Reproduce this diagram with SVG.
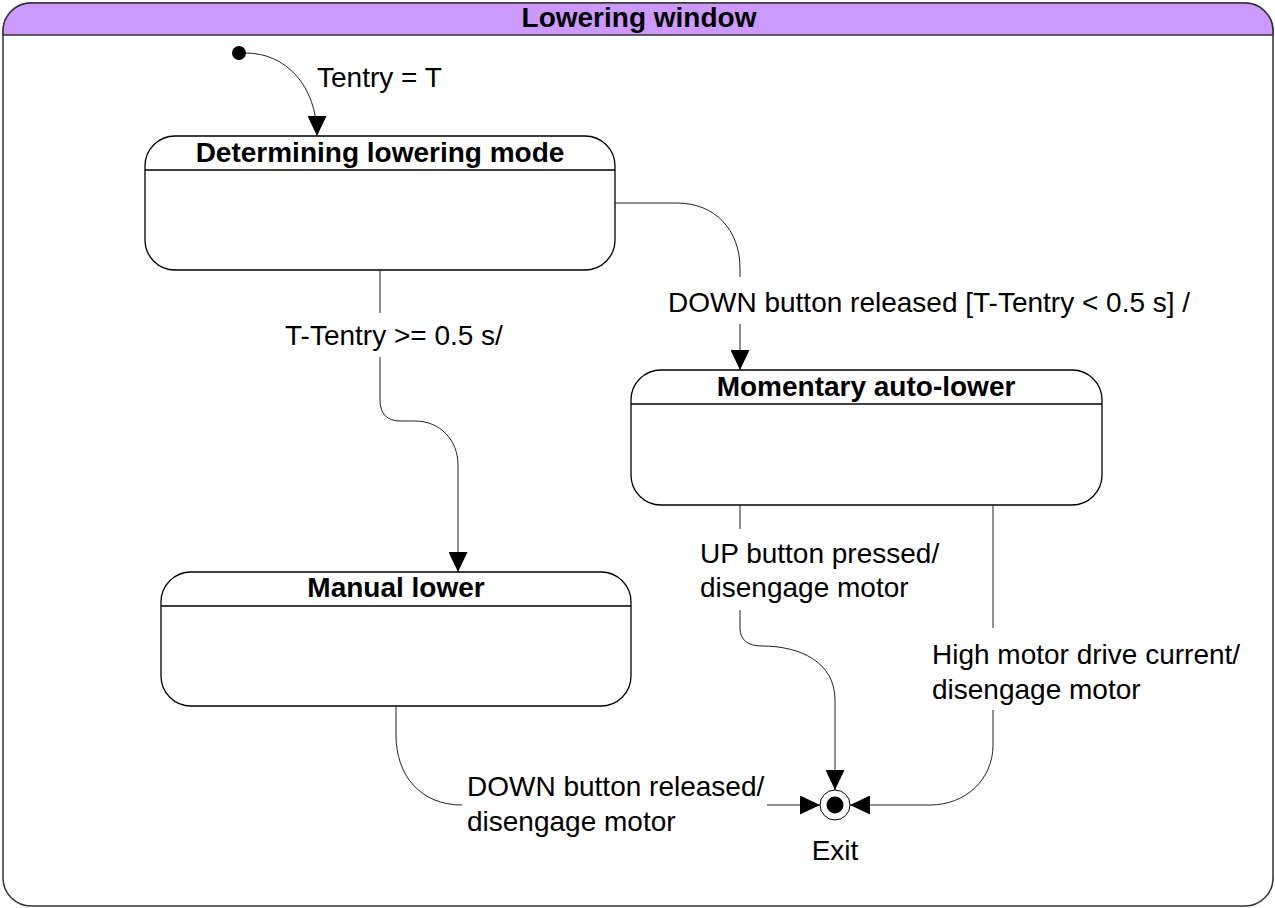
<svg xmlns="http://www.w3.org/2000/svg" width="1275" height="908" viewBox="0 0 1275 908">
  <style>
    .t { font-family: "Liberation Sans", Arial, sans-serif; font-size: 28px; fill: #000; }
    .b { font-weight: bold; text-anchor: middle; }
    .state { fill: #fff; stroke: #000; stroke-width: 1.3; }
    .sep { stroke: #000; stroke-width: 1.3; }
    .conn { fill: none; stroke: #222; stroke-width: 1; marker-end: url(#arrow); }
  </style>
  <defs>
    <marker id="arrow" markerUnits="userSpaceOnUse" markerWidth="20" markerHeight="19" refX="20" refY="9.5" orient="auto">
      <path d="M0,0 L20,9.5 L0,19 Z" fill="#000"/>
    </marker>
  </defs>

  <g id="frame">
    <rect x="3" y="3" width="1270" height="903" rx="28" ry="28" fill="#fff" stroke="#333" stroke-width="1.5"/>
    <path d="M3,35 V31 A28,28 0 0 1 31,3 H1245 A28,28 0 0 1 1273,31 V35 Z" fill="#CC99FF" stroke="#333" stroke-width="1.5"/>
    <text class="t b" x="639" y="27">Lowering window</text>
  </g>

  <g id="initial">
    <circle cx="239" cy="53" r="7" fill="#000"/>
  </g>

  <g id="determining">
    <rect class="state" x="145" y="136" width="470" height="134" rx="30" ry="30"/>
    <line class="sep" x1="145" y1="170" x2="615" y2="170"/>
    <text class="t b" x="380" y="162">Determining lowering mode</text>
  </g>

  <g id="momentary">
    <rect class="state" x="631" y="370" width="471" height="135" rx="30" ry="30"/>
    <line class="sep" x1="631" y1="404" x2="1102" y2="404"/>
    <text class="t b" x="866" y="396">Momentary auto-lower</text>
  </g>

  <g id="manual">
    <rect class="state" x="161" y="572" width="470" height="134" rx="30" ry="30"/>
    <line class="sep" x1="161" y1="606" x2="631" y2="606"/>
    <text class="t b" x="396" y="597">Manual lower</text>
  </g>

  <g id="exit">
    <circle cx="835" cy="805" r="15" fill="#fff" stroke="#000" stroke-width="1"/>
    <circle cx="835" cy="805" r="8.5" fill="#000"/>
    <text class="t" x="835" y="860" text-anchor="middle">Exit</text>
  </g>

  <g id="connectors">
    <path class="conn" d="M246,53 C285,53 317,85 317,136"/>
    <path class="conn" d="M380,270 V313 M380,357 V400 C380,414 387,421 401,421 H415 C440,421 458,440 458,465 V572"/>
    <path class="conn" d="M615,203 H677 C715,203 740,230 740,268 V277 M740,324 V370"/>
    <path class="conn" d="M740,505 V529 M740,610 V628 C740,640 748,646 762,646 C800,646 835,662 835,700 V790"/>
    <path class="conn" d="M993,505 V628 M993,710 V745 C993,780 965,805 930,805 H850"/>
    <path class="conn" d="M396,706 V735 C396,775 420,805 462,805 M767,805 H820"/>
  </g>

  <g id="labels">
    <text class="t" x="317" y="87">Tentry = T</text>
    <text class="t" x="285" y="345">T-Tentry &gt;= 0.5 s/</text>
    <text class="t" x="668" y="312">DOWN button released [T-Tentry &lt; 0.5 s] /</text>
    <text class="t" x="700" y="563">UP button pressed/</text>
    <text class="t" x="700" y="597">disengage motor</text>
    <text class="t" x="932" y="664">High motor drive current/</text>
    <text class="t" x="932" y="699">disengage motor</text>
    <text class="t" x="467" y="796">DOWN button released/</text>
    <text class="t" x="467" y="831">disengage motor</text>
  </g>
</svg>
